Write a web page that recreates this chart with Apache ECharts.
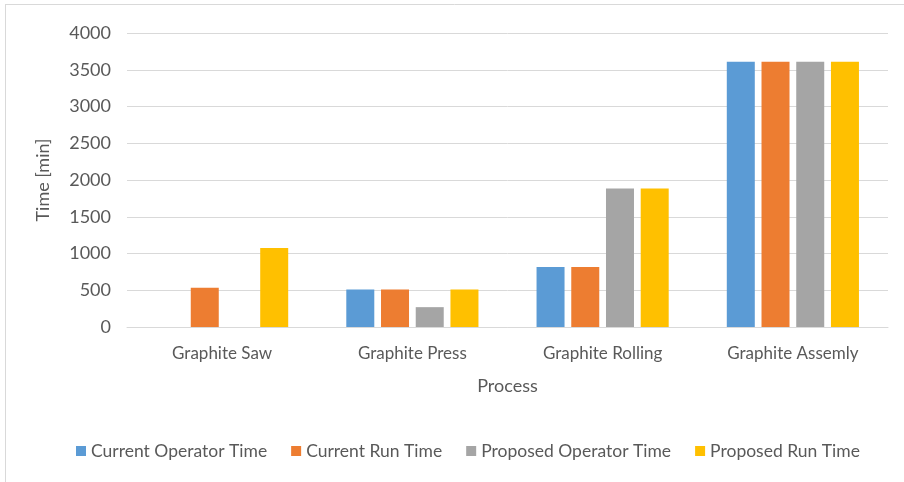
<!DOCTYPE html>
<html>
<head>
<meta charset="utf-8">
<script src="https://cdn.jsdelivr.net/npm/echarts@6/dist/echarts.min.js"></script>
<style>
html,body{margin:0;padding:0;background:#fff;}
#main{width:904px;height:482px;}
</style>
</head>
<body>
<div id="main"></div>
<script>
const categories = ["Graphite Saw", "Graphite Press", "Graphite Rolling", "Graphite Assemly"];
const seriesNames = ["Current Operator Time", "Current Run Time", "Proposed Operator Time", "Proposed Run Time"];
const currentOperator = [0, 510, 815, 3610];
const currentRun = [535, 510, 815, 3610];
const proposedOperator = [0, 270, 1885, 3610];
const proposedRun = [1075, 510, 1885, 3610];
const colors = ["#5B9BD5", "#ED7D31", "#A5A5A5", "#FFC000"];
const yTicks = {min: 0, max: 4000, interval: 500};

const seriesData = [currentOperator, currentRun, proposedOperator, proposedRun];
const chart = echarts.init(document.getElementById('main'));
const font = 'Lato, "Open Sans", sans-serif';
chart.setOption({
  animation: false,
  color: colors,
  textStyle: {fontFamily: font},
  graphic: [
    {type: 'line', shape: {x1: 5, y1: 4.5, x2: 904, y2: 4.5}, style: {stroke: '#D9D9D9', lineWidth: 1}},
    {type: 'line', shape: {x1: 5.5, y1: 4, x2: 5.5, y2: 482}, style: {stroke: '#D9D9D9', lineWidth: 1}}
  ],
  grid: {left: 127, right: 16, top: 33, bottom: 155, containLabel: false},
  legend: {
    top: 437, left: 71,
    itemWidth: 10, itemHeight: 10, itemGap: 24, itemTextGap: 4,
    icon: 'rect',
    textStyle: {fontSize: 17.5, color: '#595959', fontFamily: font},
    data: seriesNames
  },
  xAxis: {
    type: 'category',
    data: categories,
    name: 'Process',
    nameLocation: 'middle',
    nameGap: 50,
    nameTextStyle: {fontSize: 18, color: '#595959'},
    axisLine: {show: true, lineStyle: {color: '#D9D9D9', width: 1}},
    axisTick: {show: false},
    axisLabel: {fontSize: 17, color: '#595959', margin: 18}
  },
  yAxis: {
    type: 'value',
    min: yTicks.min, max: yTicks.max, interval: yTicks.interval,
    name: 'Time [min]',
    nameLocation: 'middle',
    nameGap: 75,
    nameRotate: 90,
    nameTextStyle: {fontSize: 18, color: '#595959'},
    axisLine: {show: false},
    axisTick: {show: false},
    axisLabel: {fontSize: 18, color: '#595959', margin: 16, formatter: v => String(v)},
    splitLine: {lineStyle: {color: '#D9D9D9', width: 1}}
  },
  series: seriesNames.map((n, i) => ({
    name: n,
    type: 'bar',
    data: seriesData[i],
    barWidth: 28,
    barGap: '24%',
    itemStyle: {color: colors[i]}
  }))
});
</script>
</body>
</html>
